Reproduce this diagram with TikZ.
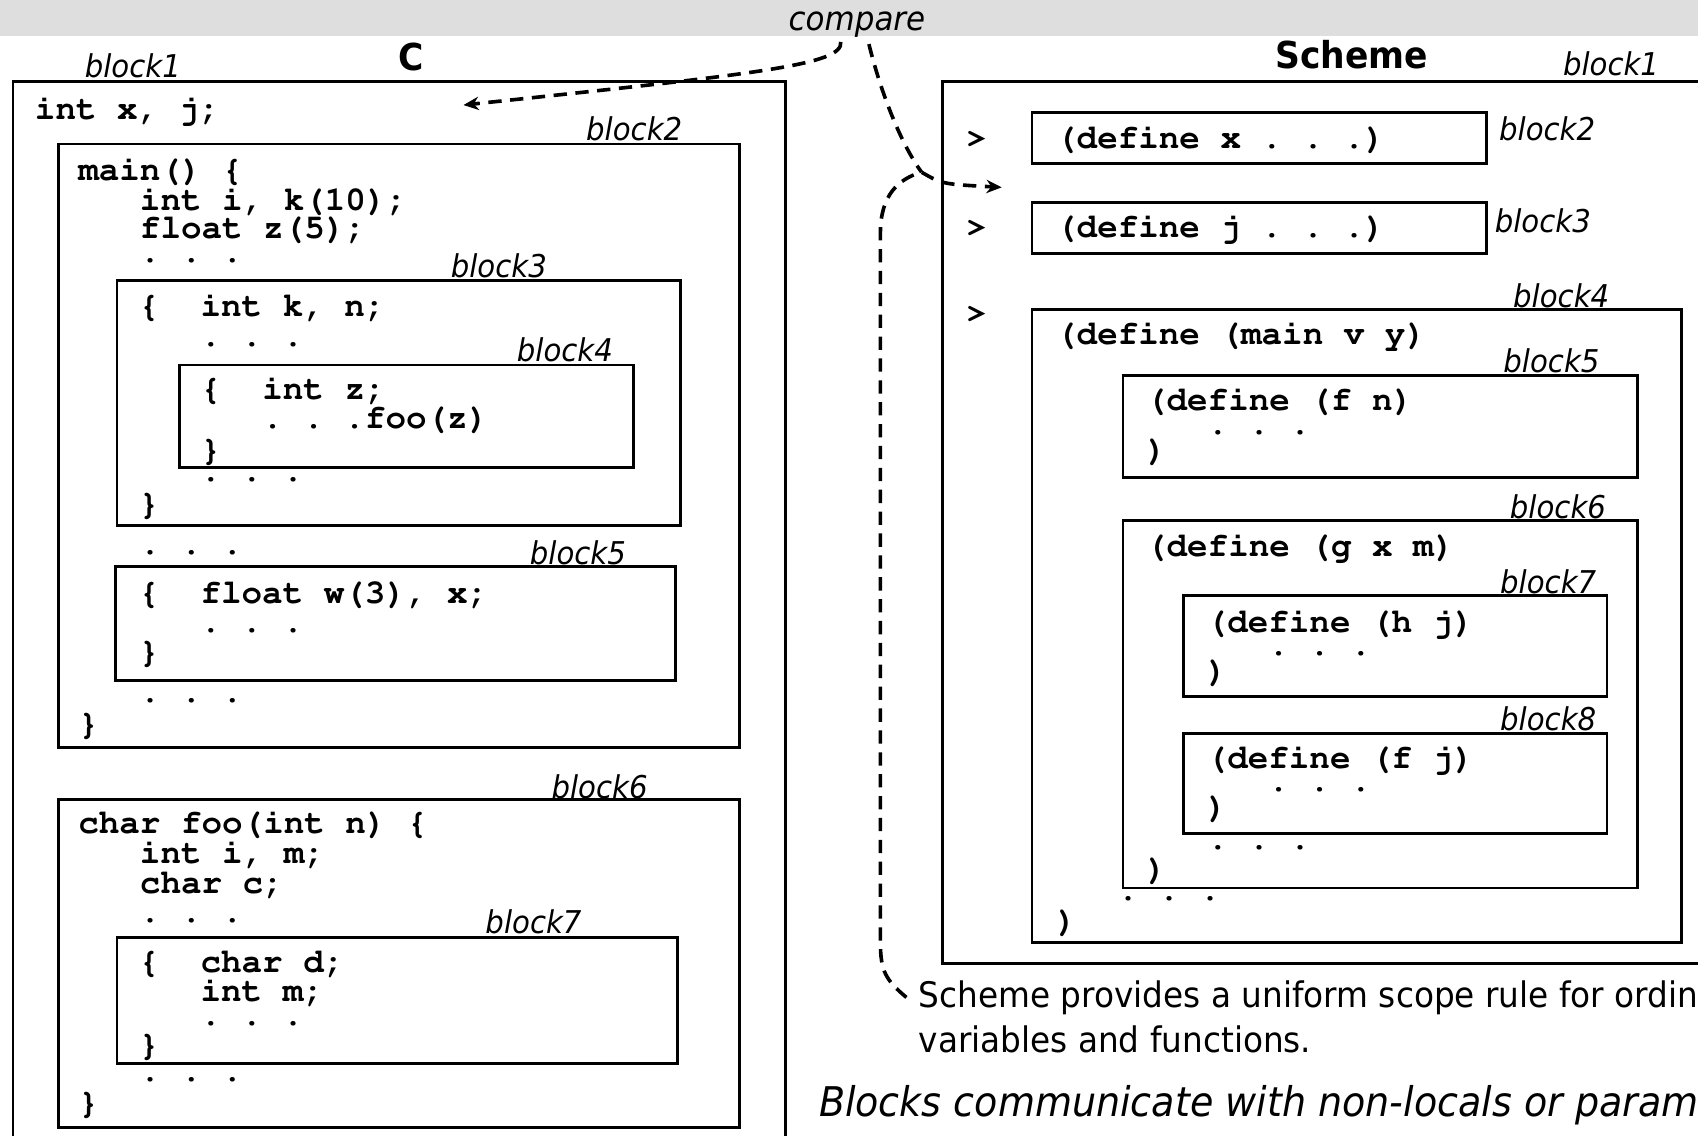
\documentclass[tikz,border=0pt]{standalone}
\usepackage[T1]{fontenc}
\usepackage{fontspec}
\setmainfont{DejaVu Sans}[FakeStretch=0.93,ItalicFont={DejaVu Sans Oblique},BoldFont={DejaVu Sans Bold}]
\newcommand{\codefont}{\fontencoding{T1}\fontfamily{pcr}\fontseries{b}\selectfont\frenchspacing}
\usetikzlibrary{arrows.meta}

\begin{document}
\begin{tikzpicture}[x=0.02cm, y=-0.02cm, >={Stealth[length=8pt,width=7pt]}, line width=1.5pt,
    code/.style={font=\codefont\fontsize{18pt}{18pt}\selectfont, anchor=base west, inner sep=0pt},
    lbl/.style={font=\itshape\fontsize{16.5pt}{18pt}\selectfont, anchor=base west, inner sep=0pt},
    head/.style={font=\bfseries\fontsize{19.5pt}{22pt}\selectfont, anchor=base, inner sep=0pt},
    note/.style={font=\fontsize{18.5pt}{20pt}\selectfont, anchor=base west, inner sep=0pt},
    cmpline/.style={line width=1.9pt, dash pattern=on 7pt off 4.5pt}]

    \useasboundingbox (0,0) rectangle (1568,1049);
    \clip (0,0) rectangle (1568,1049);

    % title band
    \fill[black!13] (0,0) rectangle (1568,33);
    \draw (727,28) node[lbl, font=\itshape\fontsize{17.5pt}{20pt}\selectfont] (cmp) {compare};
    \draw (380,65) node[head] (hc) {C};
    \draw (1248,63) node[head] (hs) {Scheme};

    % C boxes
    \draw (12,75) rectangle (725,1080);
    \draw (54,133) rectangle (683,690);
    \draw (108,259) rectangle (628,485);
    \draw (166,337) rectangle (585,432);
    \draw (107,523) rectangle (624,628);
    \draw (54,738) rectangle (683,1041);
    \draw (108,866) rectangle (626,982);
    \draw (77,72) node[lbl] (cl1) {block1};
    \draw (540,130) node[lbl] (cl2) {block2};
    \draw (415,256) node[lbl] (cl3) {block3};
    \draw (476,334) node[lbl] (cl4) {block4};
    \draw (488,521) node[lbl] (cl5) {block5};
    \draw (508,737) node[lbl] (cl6) {block6};
    \draw (447,862) node[lbl] (cl7) {block7};

    % C code
    \draw (31,110) node[code] (c0) {int x, j;};
    \draw (71,167) node[code] (c1) {main() \{};
    \draw (71,194) node[code] (c2) {\ \ \ int i, k(10);};
    \draw (71,220) node[code] (c3) {\ \ \ float z(5);};
    \draw (71,242) node[code] (c4) {\ \ \ . . .};
    \draw (127,292) node[code] (c5) {\{\ \ int k, n;};
    \draw (127,320) node[code] (c6) {\ \ \ . . .};
    \draw (184,369) node[code] (c7) {\{\ \ int z;};
    \draw (184,396) node[code] (c8) {\ \ \ . . .foo(z)};
    \draw (184,425) node[code] (c9) {\}};
    \draw (127,445) node[code] (c10) {\ \ \ . . .};
    \draw (127,475) node[code] (c11) {\}};
    \draw (71,512) node[code] (c12) {\ \ \ . . .};
    \draw (127,557) node[code] (c13) {\{\ \ float w(3), x;};
    \draw (127,584) node[code] (c14) {\ \ \ . . .};
    \draw (127,612) node[code] (c15) {\}};
    \draw (71,649) node[code] (c16) {\ \ \ . . .};
    \draw (71,678) node[code] (c17) {\}};
    \draw (71,770) node[code] (c18) {char foo(int n) \{};
    \draw (71,797) node[code] (c19) {\ \ \ int i, m;};
    \draw (71,825) node[code] (c20) {\ \ \ char c;};
    \draw (71,852) node[code] (c21) {\ \ \ . . .};
    \draw (127,898) node[code] (c22) {\{\ \ char d;};
    \draw (127,925) node[code] (c23) {\ \ \ int m;};
    \draw (127,947) node[code] (c24) {\ \ \ . . .};
    \draw (127,975) node[code] (c25) {\}};
    \draw (71,999) node[code] (c26) {\ \ \ . . .};
    \draw (71,1028) node[code] (c27) {\}};

    % Scheme boxes
    \draw (870,75) rectangle (1600,890);
    \draw (953,104) rectangle (1373,151);
    \draw (953,187) rectangle (1373,234);
    \draw (953,286) rectangle (1553,870);
    \draw (1037,347) rectangle (1512,441);
    \draw (1037,481) rectangle (1512,820);
    \draw (1093,550) rectangle (1484,643);
    \draw (1093,677) rectangle (1484,770);
    \draw (1442,70) node[lbl] (sl1) {block1};
    \draw (1383,130) node[lbl] (sl2) {block2};
    \draw (1379,215) node[lbl] (sl3) {block3};
    \draw (1396,284) node[lbl] (sl4) {block4};
    \draw (1387,344) node[lbl] (sl5) {block5};
    \draw (1393,479) node[lbl] (sl6) {block6};
    \draw (1384,548) node[lbl] (sl7) {block7};
    \draw (1384,675) node[lbl] (sl8) {block8};

    % Scheme code
    \draw (891,137) node[code] (p1) {>};
    \draw (891,219) node[code] (p2) {>};
    \draw (891,299) node[code] (p3) {>};
    \draw (974,137) node[code] (s1) {(define x . . .)};
    \draw (974,219) node[code] (s2) {(define j . . .)};
    \draw (974,318) node[code] (s3) {(define (main v y)};
    \draw (1057,379) node[code] (s4) {(define (f n)};
    \draw (1057,401) node[code] (s5) {\ \ \ . . .};
    \draw (1057,425) node[code] (s6) {)};
    \draw (1057,514) node[code] (s7) {(define (g x m)};
    \draw (1113,584) node[code] (s8) {(define (h j)};
    \draw (1113,605) node[code] (s9) {\ \ \ . . .};
    \draw (1113,629) node[code] (s10) {)};
    \draw (1113,710) node[code] (s11) {(define (f j)};
    \draw (1113,731) node[code] (s12) {\ \ \ . . .};
    \draw (1113,755) node[code] (s13) {)};
    \draw (1057,784) node[code] (s14) {\ \ \ . . .};
    \draw (1057,812) node[code] (s15) {)};
    \draw (974,832) node[code] (s16) {\ \ \ . . .};
    \draw (974,860) node[code] (s17) {)};

    % notes
    \draw (847,930) node[note] (noteA) {Scheme provides a uniform scope rule for ordinary};
    \draw (847,972) node[note] (noteB) {variables and functions.};
    \draw (755,1031) node[note, font=\itshape\fontsize{21.5pt}{24pt}\selectfont] (noteC) {Blocks communicate with non-locals or parameters.};

    % dashed pointers
    \coordinate (tipA) at (428,97);
    \coordinate (tipB) at (925,173);
    \coordinate (joint) at (851,159);
    \draw[cmpline,->] ([xshift=-0.3cm,yshift=-0.06cm]cmp.south) .. controls (779,60) and (700,68) .. (tipA);
    \draw[cmpline] ([xshift=0.22cm,yshift=-0.1cm]cmp.south) .. controls (812,80) and (830,130) .. (joint);
    \draw[cmpline,->] ([xshift=-0.2cm]noteA.west) .. controls (818,905) and (813,897) .. (813,870)
      -- (813,215) .. controls (813,180) and (830,165) .. (joint) .. controls (870,170) .. (tipB);

\end{tikzpicture}
\end{document}
